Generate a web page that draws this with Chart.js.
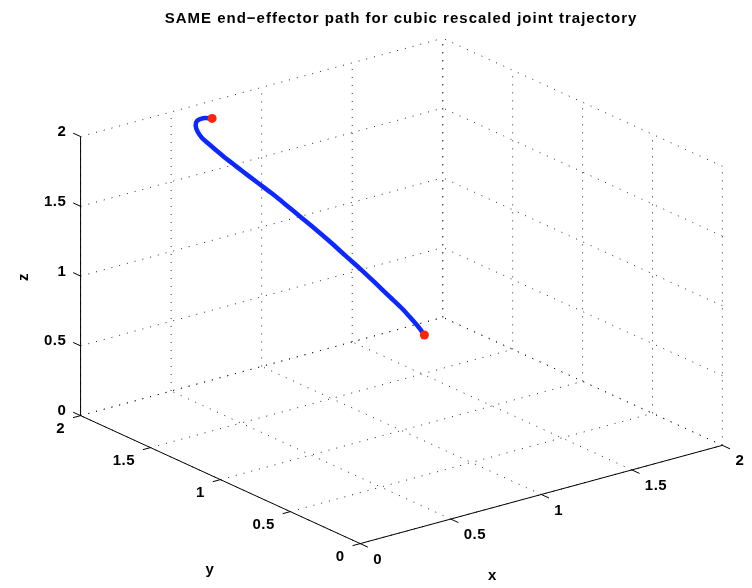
<!DOCTYPE html>
<html>
<head>
<meta charset="utf-8">
<title>end-effector path</title>
<script src="https://cdn.jsdelivr.net/npm/chart.js@4.4.1/dist/chart.umd.min.js"></script>
<style>
  html, body { margin: 0; padding: 0; background: #fff; }
  canvas { display: block; }
</style>
</head>
<body>
<canvas id="pathChart" width="752" height="588"></canvas>
<script>
// end-effector position along the rescaled cubic joint trajectory
const pathX = [0.646, 0.616, 0.588, 0.566, 0.557, 0.559, 0.581, 0.602, 0.640, 0.688, 0.736, 0.785,
               0.832, 0.880, 0.928, 0.976, 1.023, 1.071, 1.118, 1.165, 1.206, 1.237, 1.259, 1.274]
const pathY = [1.896, 1.922, 1.927, 1.910, 1.883, 1.855, 1.841, 1.819, 1.784, 1.740, 1.696, 1.652,
               1.608, 1.564, 1.520, 1.476, 1.431, 1.387, 1.342, 1.297, 1.258, 1.228, 1.206, 1.191]
const pathZ = [1.950, 1.950, 1.940, 1.920, 1.890, 1.860, 1.820, 1.780, 1.712, 1.634, 1.556, 1.478,
               1.397, 1.312, 1.227, 1.139, 1.047, 0.956, 0.861, 0.763, 0.678, 0.603, 0.546, 0.500]

const xTicks = [0, 0.5, 1, 1.5, 2]
const yTicks = [0, 0.5, 1, 1.5, 2]
const zTicks = [0, 0.5, 1, 1.5, 2]
const tickLabels = ['0', '0.5', '1', '1.5', '2']

const titleText = 'SAME end\u2212effector path for cubic rescaled joint trajectory'

// orthographic 3-D view: screen position of the origin and of one unit along each axis
const view = {
    origin: [360, 547.5],
    ex: [183.3, -49.9],
    ey: [-141.5, -65],
    ez: [0, -141.7]
}

function project(x, y, z) {
    return {
        x: view.origin[0] + x * view.ex[0] + y * view.ey[0] + z * view.ez[0],
        y: view.origin[1] + x * view.ex[1] + y * view.ey[1] + z * view.ez[1]
    }
}

function segment(a, b, color, dash, order) {
    return {
        data: [project(...a), project(...b)],
        showLine: true,
        borderColor: color,
        borderWidth: 1,
        borderDash: dash,
        pointRadius: 0,
        tension: 0,
        clip: false,
        order: order
    }
}

const gridColor = 'rgba(0,0,0,0.85)'
const gridDash = [1, 7]
const datasets = []

// dotted grid on the floor and the two back walls
xTicks.forEach(v => {
    datasets.push(segment([v, 0, 0], [v, 2, 0], gridColor, gridDash, 9))
    datasets.push(segment([v, 2, 0], [v, 2, 2], gridColor, gridDash, 9))
})
yTicks.forEach(v => {
    datasets.push(segment([0, v, 0], [2, v, 0], gridColor, gridDash, 9))
    datasets.push(segment([2, v, 0], [2, v, 2], gridColor, gridDash, 9))
})
zTicks.forEach(v => {
    datasets.push(segment([0, 2, v], [2, 2, v], gridColor, gridDash, 9))
    datasets.push(segment([2, 0, v], [2, 2, v], gridColor, gridDash, 9))
})

// solid axis lines and their tick marks
datasets.push(segment([0, 0, 0], [2, 0, 0], '#000', [], 5))
datasets.push(segment([0, 0, 0], [0, 2, 0], '#000', [], 5))
datasets.push(segment([0, 2, 0], [0, 2, 2], '#000', [], 5))
xTicks.forEach(v => datasets.push(segment([v, 0, 0], [v, -0.055, 0], '#000', [], 5)))
yTicks.forEach(v => datasets.push(segment([0, v, 0], [-0.042, v, 0], '#000', [], 5)))
zTicks.forEach(v => datasets.push(segment([0, 2, v], [0, 2.053, v], '#000', [], 5)))

// the path itself
const pathPoints = pathX.map((x, i) => project(x, pathY[i], pathZ[i]))
datasets.push({
    data: pathPoints,
    showLine: true,
    borderColor: 'rgb(12,40,255)',
    borderWidth: 4.5,
    borderCapStyle: 'round',
    borderJoinStyle: 'round',
    tension: 0.3,
    pointRadius: 0,
    clip: false,
    order: 2
})

// start and end points
const last = pathX.length - 1
datasets.push({
    data: [pathPoints[0], pathPoints[last]],
    showLine: false,
    pointRadius: 4.5,
    pointBorderWidth: 0,
    pointBackgroundColor: 'rgb(255,36,8)',
    clip: false,
    order: 1
})

const axisText = {
    id: 'axisText',
    afterDraw(chart) {
        const ctx = chart.ctx
        const sx = chart.scales.x
        const sy = chart.scales.y
        const px = p => ({ x: sx.getPixelForValue(p.x), y: sy.getPixelForValue(p.y) })

        ctx.save()
        ctx.fillStyle = '#000'
        ctx.textBaseline = 'middle'
        ctx.font = 'bold 15px "Liberation Sans", Arial, sans-serif'
        ctx.letterSpacing = '0.5px'

        ctx.textAlign = 'left'
        xTicks.forEach((v, i) => {
            const p = px(project(v, 0, 0))
            ctx.fillText(tickLabels[i], p.x + 13, p.y + 16)
        })
        ctx.textAlign = 'right'
        yTicks.forEach((v, i) => {
            const p = px(project(0, v, 0))
            ctx.fillText(tickLabels[i], p.x - 15.5, p.y + 13.5)
        })
        zTicks.forEach((v, i) => {
            const p = px(project(0, 2, v))
            ctx.fillText(tickLabels[i], p.x - 14.3, p.y - 4.5)
        })

        // axis names
        ctx.textAlign = 'center'
        let p = px(project(1, 0, 0))
        ctx.fillText('x', p.x - 48.8, p.y + 81)
        p = px(project(0, 1, 0))
        ctx.fillText('y', p.x - 10.5, p.y + 90)
        p = px(project(0, 2, 1))
        ctx.save()
        ctx.translate(p.x - 57, p.y + 1)
        ctx.rotate(-Math.PI / 2)
        ctx.fillText('z', 0, 0)
        ctx.restore()

        // title
        ctx.letterSpacing = '1px'
        ctx.textBaseline = 'alphabetic'
        ctx.fillText(titleText, 401, 23)
        ctx.restore()
    }
}

new Chart(document.getElementById('pathChart'), {
    type: 'scatter',
    data: { datasets: datasets },
    options: {
        responsive: false,
        animation: false,
        devicePixelRatio: 1,
        events: [],
        layout: { padding: 0 },
        scales: {
            x: { type: 'linear', display: false, min: 0, max: 752 },
            y: { type: 'linear', display: false, min: 0, max: 588, reverse: true }
        },
        plugins: {
            legend: { display: false },
            tooltip: { enabled: false }
        }
    },
    plugins: [axisText]
})
</script>
</body>
</html>
